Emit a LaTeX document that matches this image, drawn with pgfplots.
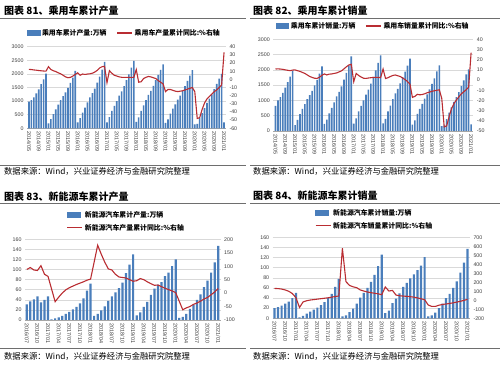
\documentclass[border=0pt]{standalone}
\usepackage{pgfplots}
\usepackage{pgfplotstable}
\pgfplotsset{compat=1.18}
\usepackage{fontspec}
\setmainfont{Liberation Sans}
\newfontfamily\cjk{Noto Sans CJK SC}
\definecolor{barblue}{RGB}{74,126,187}
\definecolor{linered}{RGB}{185,45,50}
\definecolor{gridgray}{RGB}{217,217,217}
\definecolor{ticktext}{RGB}{60,60,60}
\definecolor{rulegray}{RGB}{110,110,110}

\pgfplotstableread{
b l
976 12.2
1040 12
1137 11.5
1284 11.2
1431 10.8
1626 10.5
1798 10.2
2010 10
183 15.5
340 12
520 10.5
700 9.5
870 8
1040 6.8
1180 5
1320 3
1490 2
1670 2.4
1860 4
2110 6
220 8
370 5
580 6.5
760 6
950 6.5
1140 6.8
1290 7.5
1460 9
1680 11
1900 14
2160 15.5
2440 16
220 -4
410 10.6
640 7.5
820 5
1000 4
1200 3
1360 2.5
1550 2.4
1770 2.4
1980 2.5
2230 2.3
2480 2.4
240 12
400 -3.5
640 -3
840 1
1040 2.5
1230 3.5
1380 3
1560 2
1770 1
1960 -1.5
2150 -3.5
2350 -5.5
200 -15
330 -12.5
540 -12.5
720 -13.5
880 -14.5
1050 -15
1200 -14.5
1370 -14
1550 -13
1740 -12
1940 -11
2140 -10
140 -15
163 -48
385 -47
560 -37
740 -29
930 -24
1090 -21
1250 -18
1440 -15
1630 -13
1830 -10
2000 -7
215 33
}\dataA

\pgfplotstableread{
b l
820 10.8
1000 11
1110 10.8
1250 10.5
1420 10
1600 9.6
1780 9.2
1970 9.8
190 10
360 9.2
550 8.5
720 7.5
880 6.5
1040 5
1170 3.5
1310 2.6
1490 1.8
1670 1.6
1880 2.8
2115 4.7
230 6
370 5
580 5.8
760 6
940 6.5
1130 7
1280 8
1460 9
1680 11
1900 13
2150 14.8
2438 15.4
240 -1.6
410 6.5
640 4.5
820 3
1000 1.8
1190 1.6
1350 2
1550 2.3
1770 2.6
1980 2.7
2230 2.6
2472 2.4
250 10.8
400 1.5
640 2.3
830 3.5
1040 4.5
1230 5
1380 4.2
1560 3.5
1760 2
1940 0.5
2140 -1.5
2371 -4
210 -17
350 -16
560 -14
720 -14.5
890 -14.2
1060 -13.5
1200 -12.5
1360 -11.8
1540 -11
1720 -10.5
1950 -10
2144 -9.6
160 -18
180 -46
390 -45
600 -36
770 -28
950 -23
1110 -19.5
1270 -16.5
1470 -13.5
1660 -11.5
1850 -9.5
2018 -7
217 27
}\dataB

\pgfplotstableread{
b l
31 88
37 95
41 86
47 84
35 102
40 70
47 62
1 15
3 -32
5 -15
8 0
12 12
16 20
21 26
26 32
33 37
43 42
58 48
72 52
8 115
12 178
19 145
27 115
38 90
47 86
55 70
63 60
74 58
93 56
110 50
130 44
9 46
15 54
26 50
36 42
50 35
62 29
70 30
75 24
87 18
94 13
107 8
120 2
4 -30
6 -62
12 -55
22 -50
30 -42
40 -37
51 -30
65 -22
78 -16
94 -6
114 4
147 17
}\dataC

\pgfplotstableread{
b l
20 132
22 130
25 125
29 115
33 100
40 75
50 30
2 -80
5 -18
9 -5
13 3
17 8
21 13
26 18
32 23
40 28
48 35
62 42
78 48
4 578
6 207
12 165
19 150
29 140
41 115
50 103
60 92
72 85
86 78
103 72
126 62
10 148
15 103
30 110
39 58
49 50
62 47
70 44
79 40
87 35
95 27
104 17
121 7
4 -52
6 -68
11 -68
20 -55
29 -46
40 -41
48 -35
60 -28
73 -20
90 -11
110 -1
137 10
}\dataD

\pgfplotsset{
  base/.style={scale only axis, anchor=south west,
    /pgf/number format/assume math mode=true,
    /pgf/number format/1000 sep={},
    tick label style={font=\fontsize{5.3}{6}\selectfont, text=ticktext},
    major tick length=0pt,
    enlarge x limits=false,
  },
  leftax/.style={base, axis y line*=left, axis x line*=bottom, ymin=0,
    ymajorgrids, grid style={gridgray, line width=0.5pt},
    x axis line style={draw=gray!70},
    y axis line style={draw=none},
    xticklabel style={rotate=-90, anchor=west, font=\fontsize{5.4}{6}\selectfont},
    ybar, bar shift=0pt,
  },
  rightax/.style={base, axis y line*=right, axis x line=none,
    y axis line style={draw=none},
    legend cell align=left,
    legend style={draw=none, fill=none, inner sep=0pt,
      font=\cjk\bfseries\fontsize{6.9}{8}\selectfont,
      /tikz/every even column/.append style={column sep=8pt}},
  },
  barleg/.style={legend image code/.code={\fill[barblue] (0pt,-2.5pt) rectangle (12.5pt,2.5pt);}},
  lineleg/.style={legend image code/.code={\draw[linered, line width=1.1pt] (0pt,0pt) -- (15pt,0pt);}},
}

\begin{document}
\begin{tikzpicture}
\useasboundingbox (0pt,0pt) rectangle (500pt,369pt);

% ---------- titles, rules, sources ----------
\node[anchor=west, inner sep=0pt, font=\cjk\bfseries\fontsize{10}{12}\selectfont] at (4pt,358pt) {图表 81、乘用车累计产量};
\node[anchor=west, inner sep=0pt, font=\cjk\bfseries\fontsize{10}{12}\selectfont] at (253pt,358.5pt) {图表 82、乘用车累计销量};
\node[anchor=west, inner sep=0pt, font=\cjk\bfseries\fontsize{10}{12}\selectfont] at (4pt,172.5pt) {图表 83、新能源车累计产量};
\node[anchor=west, inner sep=0pt, font=\cjk\bfseries\fontsize{10}{12}\selectfont] at (253pt,173pt) {图表 84、新能源车累计销量};

\draw[rulegray, line width=0.9pt] (0pt,351pt) -- (246pt,351pt);
\draw[rulegray, line width=0.9pt] (250pt,351pt) -- (500pt,351pt);
\draw[rulegray, line width=0.9pt] (0pt,204pt) -- (246pt,204pt);
\draw[rulegray, line width=0.9pt] (250pt,204pt) -- (500pt,204pt);
\draw[rulegray, line width=0.9pt] (0pt,165.5pt) -- (246pt,165.5pt);
\draw[rulegray, line width=0.9pt] (250pt,165.5pt) -- (500pt,165.5pt);
\draw[rulegray, line width=0.9pt] (0pt,20.7pt) -- (246pt,20.7pt);
\draw[rulegray, line width=0.9pt] (250pt,20.7pt) -- (500pt,20.7pt);

\node[anchor=west, inner sep=0pt, font=\cjk\fontsize{8.3}{10}\selectfont] at (4pt,197.3pt) {数据来源：Wind，兴业证券经济与金融研究院整理};
\node[anchor=west, inner sep=0pt, font=\cjk\fontsize{8.3}{10}\selectfont] at (253pt,197.3pt) {数据来源：Wind，兴业证券经济与金融研究院整理};
\node[anchor=west, inner sep=0pt, font=\cjk\fontsize{8.3}{10}\selectfont] at (4pt,12.3pt) {数据来源：Wind，兴业证券经济与金融研究院整理};
\node[anchor=west, inner sep=0pt, font=\cjk\fontsize{8.3}{10}\selectfont] at (253pt,12.3pt) {数据来源：Wind，兴业证券经济与金融研究院整理};

% ---------- Panel 1 ----------
\begin{axis}[leftax, at={(27pt,240.7pt)}, width=199pt, height=81.6pt,
  xmin=-0.8, xmax=80.8, ymax=3000, ytick={0,500,...,3000}, bar width=1.6pt,
  xtick={0,4,...,80},
  xticklabels={2014/05,2014/09,2015/01,2015/05,2015/09,2016/01,2016/05,2016/09,2017/01,2017/05,2017/09,2018/01,2018/05,2018/09,2019/01,2019/05,2019/09,2020/01,2020/05,2020/09,2021/01}]
\addplot[fill=barblue, draw=none] table[x expr=\coordindex, y=b] {\dataA};
\end{axis}
\begin{axis}[rightax, at={(27pt,240.7pt)}, width=199pt, height=81.6pt,
  xmin=-0.8, xmax=80.8, ymin=-60, ymax=40, ytick={-60,-50,...,40},
  legend columns=2, legend style={at={(0.49,1)}, anchor=center, yshift=13.7pt}]
\addlegendimage{barleg}
\addlegendentry{乘用车累计产量:万辆}
\addplot[linered, line width=1.1pt, lineleg] table[x expr=\coordindex, y=l] {\dataA};
\addlegendentry{乘用车产量累计同比:\%右轴}
\end{axis}

% ---------- Panel 2 ----------
\begin{axis}[leftax, at={(273.3pt,238pt)}, width=200pt, height=91.7pt,
  xmin=-0.9, xmax=80.9, ymax=3000, ytick={0,500,...,3000}, bar width=1.6pt,
  xtick={0,4,...,80},
  xticklabels={2014/05,2014/09,2015/01,2015/05,2015/09,2016/01,2016/05,2016/09,2017/01,2017/05,2017/09,2018/01,2018/05,2018/09,2019/01,2019/05,2019/09,2020/01,2020/05,2020/09,2021/01}]
\addplot[fill=barblue, draw=none] table[x expr=\coordindex, y=b] {\dataB};
\end{axis}
\begin{axis}[rightax, at={(273.3pt,238pt)}, width=200pt, height=91.7pt,
  xmin=-0.9, xmax=80.9, ymin=-50, ymax=40, ytick={-50,-40,...,40},
  legend columns=2, legend style={at={(0.5,1)}, anchor=center, yshift=13.3pt}]
\addlegendimage{barleg}
\addlegendentry{乘用车累计销量:万辆}
\addplot[linered, line width=1.1pt, lineleg] table[x expr=\coordindex, y=l] {\dataB};
\addlegendentry{乘用车销量累计同比:\%右轴}
\end{axis}

% ---------- Panel 3 ----------
\begin{axis}[leftax, at={(25pt,49pt)}, width=195.7pt, height=80.7pt,
  xmin=-0.5, xmax=54.7, ymax=160, ytick={0,20,...,160}, bar width=2.2pt,
  xtick={0,3,...,54},
  xticklabels={2016/07,2016/10,2017/01,2017/04,2017/07,2017/10,2018/01,2018/04,2018/07,2018/10,2019/01,2019/04,2019/07,2019/10,2020/01,2020/04,2020/07,2020/10,2021/01}]
\addplot[fill=barblue, draw=none] table[x expr=\coordindex, y=b] {\dataC};
\end{axis}
\begin{axis}[rightax, at={(25pt,49pt)}, width=195.7pt, height=80.7pt,
  xmin=-0.5, xmax=54.7, ymin=-100, ymax=200, ytick={-100,-50,...,200},
  legend columns=1, legend style={at={(0.213,1)}, anchor=west, yshift=18pt, row sep=1.5pt}]
\addlegendimage{barleg}
\addlegendentry{新能源汽车累计产量:万辆}
\addplot[linered, line width=1.1pt, lineleg] table[x expr=\coordindex, y=l] {\dataC};
\addlegendentry{新能源汽车产量累计同比:\%右轴}
\end{axis}

% ---------- Panel 4 ----------
\begin{axis}[leftax, at={(272.7pt,50.7pt)}, width=197.3pt, height=81pt,
  xmin=-0.5, xmax=54.7, ymax=160, ytick={0,20,...,160}, bar width=2.2pt,
  xtick={0,3,...,54},
  xticklabels={2016/07,2016/10,2017/01,2017/04,2017/07,2017/10,2018/01,2018/04,2018/07,2018/10,2019/01,2019/04,2019/07,2019/10,2020/01,2020/04,2020/07,2020/10,2021/01}]
\addplot[fill=barblue, draw=none] table[x expr=\coordindex, y=b] {\dataD};
\end{axis}
\begin{axis}[rightax, at={(272.7pt,50.7pt)}, width=197.3pt, height=81pt,
  xmin=-0.5, xmax=54.7, ymin=-200, ymax=700, ytick={-200,-100,...,700},
  legend columns=1, legend style={at={(0.214,1)}, anchor=west, yshift=18pt, row sep=1.5pt}]
\addlegendimage{barleg}
\addlegendentry{新能源汽车累计销量:万辆}
\addplot[linered, line width=1.1pt, lineleg] table[x expr=\coordindex, y=l] {\dataD};
\addlegendentry{新能源汽车销量累计同比:\%右轴}
\end{axis}
\end{tikzpicture}
\end{document}
